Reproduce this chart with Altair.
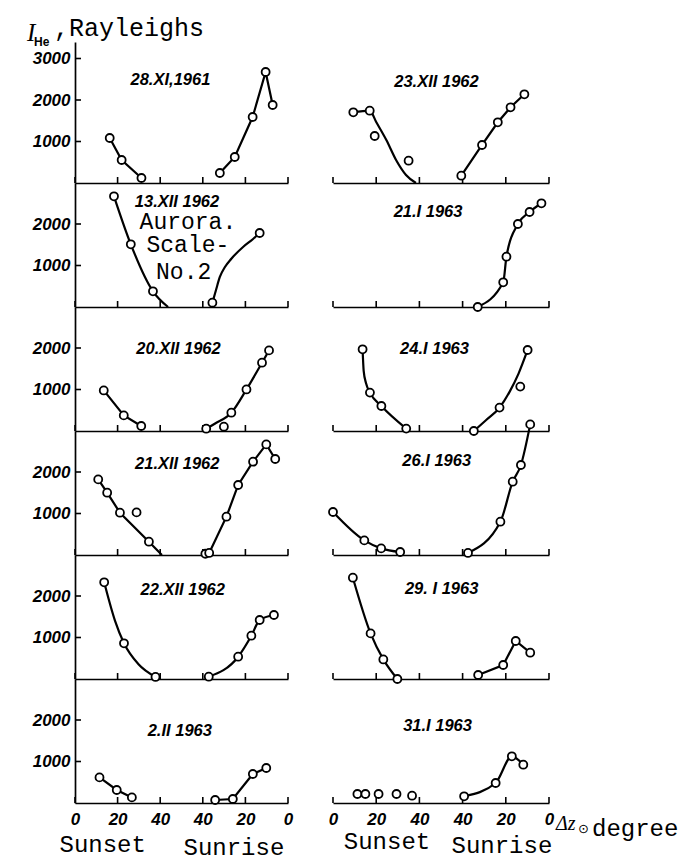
import altair as alt
import pandas as pd

# ---------------- data: (delta z_sun in degrees, I_He in Rayleighs) ----------------
TICK_U = [0, 20, 40, 60, 80, 100]
TICK_LABELS = ["0", "20", "40", "40", "20", "0"]
Y_TICKS_FIRST = [1000, 2000, 3000]
Y_TICKS_OTHER = [1000, 2000]

TITLES = ["28.XI,1961", "23.XII 1962", "13.XII 1962", "21.I 1963",
          "20.XII 1962", "24.I 1963", "21.XII 1962", "26.I 1963",
          "22.XII 1962", "29. I 1963", "2.II 1963", "31.I 1963"]

# 28.XI 1961
A_SET = [(16.3, 1084), (21.9, 554), (31.2, 120)]
A_RISE = [(32.0, 241), (25.0, 627), (16.6, 1590), (10.5, 2675), (7.2, 1880)]
# 23.XII 1962
B_SET = [(9.4, 1704), (17.0, 1742), (19.3, 1133), (35.0, 537)]
B_SET_FIT = [(9.4, 1704), (17.0, 1742), (20.0, 1470), (24.7, 1036), (29.2, 554), (33.8, 193), (38.4, 0)]
B_RISE = [(40.6, 176), (31.0, 916), (23.7, 1463), (17.8, 1824), (11.4, 2137)]
# 13.XII 1962
C_SET = [(18.3, 2667), (26.2, 1511), (36.6, 378)]
C_SET_FIT = [(18.3, 2667), (26.2, 1511), (36.6, 378), (43.7, 0)]
C_RISE = [(35.5, 104), (13.3, 1783)]
C_RISE_FIT = [(35.5, 104), (33.8, 410), (32.0, 723), (29.6, 964), (26.6, 1164), (21.1, 1446), (16.4, 1639), (13.3, 1783)]
# 21.I 1963
D_RISE = [(33.0, 0), (21.2, 595), (19.7, 1212), (14.4, 2000), (9.0, 2289), (3.5, 2499)]
# 20.XII 1962
E_SET = [(13.5, 978), (22.9, 376), (31.1, 120)]
E_RISE = [(38.4, 55), (30.1, 104), (26.6, 441), (19.5, 1002), (12.2, 1646), (8.9, 1942)]
E_RISE_FIT = [(38.4, 55), (34.4, 176), (26.6, 441), (19.5, 1002), (12.2, 1646), (8.9, 1942)]
# 24.I 1963
F_SET = [(13.7, 1969), (17.1, 925), (22.4, 602), (33.9, 58)]
F_SET_FIT = [(13.7, 1969), (14.2, 1450), (15.3, 1150), (17.1, 925), (22.4, 602), (33.9, 58)]
F_RISE = [(34.8, 0), (22.9, 564), (13.3, 1070), (9.9, 1952)]
F_RISE_FIT = [(34.8, 0), (29.2, 259), (22.9, 564), (18.2, 949), (14.1, 1383), (9.9, 1952)]
# 21.XII 1962
G_SET = [(10.9, 1822), (15.1, 1501), (21.1, 1019), (28.9, 1027), (34.7, 320)]
G_SET_FIT = [(10.9, 1822), (15.1, 1501), (21.1, 1019), (34.7, 320), (40.8, 0)]
G_RISE = [(38.8, 30), (37.0, 50), (28.9, 923), (23.4, 1687), (16.4, 2248), (10.2, 2665), (6.0, 2313)]
G_RISE_FIT = [(37.0, 50), (28.9, 923), (23.4, 1687), (16.4, 2248), (10.2, 2665), (6.0, 2313)]
# 26.I 1963
H_SET = [(0.0, 1036), (14.5, 352), (22.3, 159), (31.1, 72)]
H_RISE = [(37.5, 50), (22.5, 802), (16.8, 1766), (13.0, 2169), (8.7, 3147)]
# 22.XII 1962
I_SET = [(13.7, 2330), (23.0, 860), (37.8, 50)]
I_SET_FIT = [(13.7, 2330), (18.8, 1400), (23.0, 860), (29.7, 361), (37.8, 50)]
I_RISE = [(37.2, 55), (23.4, 537), (17.2, 1043), (13.3, 1422), (6.6, 1542)]
# 29.I 1963
J_SET = [(9.2, 2441), (17.4, 1099), (23.3, 472), (29.8, 0)]
J_RISE = [(32.8, 96), (21.2, 337), (15.4, 916), (8.7, 634)]
# 2.II 1963
K_SET = [(11.5, 617), (19.6, 313), (26.7, 135)]
K_RISE = [(34.2, 72), (25.9, 96), (16.5, 699), (10.2, 843)]
# 31.I 1963
L_SET = [(11.3, 217), (15.0, 217), (21.1, 217), (29.4, 217), (36.6, 176)]
L_RISE = [(39.3, 161), (24.7, 482), (17.2, 1125), (11.9, 923)]

PANELS = [
    ([("set", A_SET), ("rise", A_RISE)], [("set", "linear", A_SET), ("rise", "linear", A_RISE)]),
    ([("set", B_SET), ("rise", B_RISE)], [("set", "monotone", B_SET_FIT), ("rise", "linear", B_RISE)]),
    ([("set", C_SET), ("rise", C_RISE)], [("set", "monotone", C_SET_FIT), ("rise", "monotone", C_RISE_FIT)]),
    ([("rise", D_RISE)], [("rise", "monotone", D_RISE)]),
    ([("set", E_SET), ("rise", E_RISE)], [("set", "linear", E_SET), ("rise", "monotone", E_RISE_FIT)]),
    ([("set", F_SET), ("rise", F_RISE)], [("set", "monotone", F_SET_FIT), ("rise", "monotone", F_RISE_FIT)]),
    ([("set", G_SET), ("rise", G_RISE)], [("set", "linear", G_SET_FIT), ("rise", "linear", G_RISE_FIT)]),
    ([("set", H_SET), ("rise", H_RISE)], [("set", "monotone", H_SET), ("rise", "monotone", H_RISE)]),
    ([("set", I_SET), ("rise", I_RISE)], [("set", "monotone", I_SET_FIT), ("rise", "monotone", I_RISE)]),
    ([("set", J_SET), ("rise", J_RISE)], [("set", "monotone", J_SET), ("rise", "linear", J_RISE)]),
    ([("set", K_SET), ("rise", K_RISE)], [("set", "linear", K_SET), ("rise", "linear", K_RISE)]),
    ([("set", L_SET), ("rise", L_RISE)], [("rise", "monotone", L_RISE)]),
]

STAMP_TEXT = ["Aurora.", "Scale-", "No.2"]

# ---------------- layout ----------------
TITLE_POS = [(44.8, 2482), (47.9, 2434), (47.9, 2540), (44.0, 2289),
             (48.6, 1976), (47.0, 1976), (48.0, 2193), (48.0, 2265),
             (50.6, 2145), (50.3, 2169), (49.2, 1735), (48.4, 1855)]
STAMP_POS = [(53, 2060), (53, 1490), (51, 840)]
ROW_H = [141, 124, 124, 124, 124, 124]
PX_PER_R = 0.0415
W_LEFT, W_RIGHT, GAP = 213, 216, 45

NUM_FONT = "Liberation Sans"
TYPE_FONT = "Liberation Mono"

LABEL_EXPR = ("[" + ",".join(repr(s) for s in TICK_LABELS) + "][indexof(["
              + ",".join(str(t) for t in TICK_U) + "], datum.value)]")


def u_of(phase, deg):
    return deg if phase == "set" else 100 - deg


def text_layer(txt, x, y, **kw):
    return alt.Chart(pd.DataFrame({"t": [txt]})).mark_text(**kw).encode(
        text="t:N", x=alt.value(x), y=alt.value(y))


def panel(i):
    row, col = divmod(i, 2)
    H = ROW_H[row]
    W = W_LEFT if col == 0 else W_RIGHT
    ymax = H / PX_PER_R
    bottom = row == 5
    left = col == 0
    xs = alt.Scale(domain=[0, 100])
    ys = alt.Scale(domain=[0, ymax])
    if bottom:
        xaxis = alt.Axis(values=TICK_U, labelExpr=LABEL_EXPR, ticks=False, grid=False,
                         domain=True, title=None, labelFont=NUM_FONT, labelFontSize=17,
                         labelFontStyle="italic", labelFontWeight="bold", labelPadding=8,
                         labelColor="black", domainColor="black", domainWidth=1.7,
                         labelFlush=False)
    else:
        xaxis = alt.Axis(values=TICK_U, labels=False, ticks=False, grid=False,
                         domain=True, title=None, domainColor="black", domainWidth=1.7)
    yt = Y_TICKS_FIRST if row == 0 else Y_TICKS_OTHER
    if left:
        yaxis = alt.Axis(values=yt, format="d", ticks=False, grid=False, domain=True,
                         title=None, labelFont=NUM_FONT, labelFontSize=17,
                         labelFontStyle="italic", labelFontWeight="bold",
                         labelColor="black", labelPadding=5, domainColor="black",
                         domainWidth=1.7)
    else:
        yaxis = None

    pts, curves = PANELS[i]
    prow = []
    for phase, arr in pts:
        for d, v in arr:
            prow.append({"u": u_of(phase, d), "v": v})
    pdf = pd.DataFrame(prow)

    layers = []
    # x ticks pointing upward
    layers.append(alt.Chart(pd.DataFrame({"u": TICK_U})).mark_rule(
        color="black", strokeWidth=1.6).encode(
        x=alt.X("u:Q", scale=xs, axis=xaxis), y=alt.value(H), y2=alt.value(H - 6)))
    if left:
        layers.append(alt.Chart(pd.DataFrame({"v": yt})).mark_rule(
            color="black", strokeWidth=1.6).encode(
            y=alt.Y("v:Q", scale=ys, axis=yaxis), x=alt.value(0), x2=alt.value(6)))
    for interp in ["linear", "monotone"]:
        rows = []
        for k, (phase, kind, arr) in enumerate(curves):
            if kind != interp:
                continue
            for d, v in arr:
                rows.append({"u": u_of(phase, d), "v": v, "seg": k})
        if rows:
            layers.append(alt.Chart(pd.DataFrame(rows)).mark_line(
                color="black", strokeWidth=2.2, interpolate=interp).encode(
                x=alt.X("u:Q", scale=xs, axis=xaxis),
                y=alt.Y("v:Q", scale=ys, axis=yaxis),
                detail="seg:N", order="u:Q"))
    layers.append(alt.Chart(pdf).mark_point(
        shape="circle", filled=True, fill="white", stroke="black", strokeWidth=1.8,
        size=64, opacity=1).encode(
        x=alt.X("u:Q", scale=xs, axis=xaxis), y=alt.Y("v:Q", scale=ys, axis=yaxis)))
    tu, tv = TITLE_POS[i]
    layers.append(alt.Chart(pd.DataFrame({"u": [tu], "v": [tv], "t": [TITLES[i]]})).mark_text(
        font=NUM_FONT, fontSize=16.5, fontStyle="italic", fontWeight="bold",
        align="center", baseline="middle", color="black").encode(
        x=alt.X("u:Q", scale=xs, axis=xaxis), y=alt.Y("v:Q", scale=ys, axis=yaxis),
        text="t:N"))

    if i == 0:
        layers.append(text_layer("I", -48, -9, font="Liberation Serif", fontSize=25,
                                 fontStyle="italic", align="left", color="black"))
        layers.append(text_layer("He", -41, 0, font=NUM_FONT, fontSize=12,
                                 fontWeight="bold", align="left", color="black"))
        layers.append(text_layer(",Rayleighs", -21, -14, font=TYPE_FONT, fontSize=25,
                                 align="left", color="black"))
    if i == 2:
        sdf = pd.DataFrame({"u": [p[0] for p in STAMP_POS], "v": [p[1] for p in STAMP_POS],
                            "t": STAMP_TEXT})
        layers.append(alt.Chart(sdf).mark_text(
            font=TYPE_FONT, fontSize=23, align="center", baseline="middle",
            color="black").encode(
            x=alt.X("u:Q", scale=xs, axis=xaxis), y=alt.Y("v:Q", scale=ys, axis=yaxis),
            text="t:N"))
    if bottom:
        if left:
            lab = [("Sunset", 13.0, H + 49), ("Sunrise", 74.6, H + 52)]
        else:
            lab = [("Sunset", 25.0, H + 46), ("Sunrise", 78.2, H + 50)]
        for txt, uu, yy in lab:
            layers.append(alt.Chart(pd.DataFrame({"u": [uu], "t": [txt]})).mark_text(
                font=TYPE_FONT, fontSize=24, align="center", baseline="alphabetic",
                color="black").encode(
                x=alt.X("u:Q", scale=xs, axis=xaxis), y=alt.value(yy), text="t:N"))
        if not left:
            layers.append(text_layer("\u0394z", W + 7, H + 21, font="Liberation Serif",
                                     fontSize=20, fontStyle="italic", align="left",
                                     color="black"))
            layers.append(text_layer("\u2299", W + 29, H + 26, font="DejaVu Sans",
                                     fontSize=13, align="left", color="black"))
            layers.append(text_layer("degree", W + 43, H + 26, font=TYPE_FONT,
                                     fontSize=24, align="left", color="black"))

    return alt.layer(*layers).properties(width=W, height=H)


cells = [panel(i) for i in range(12)]
chart = alt.concat(*cells, columns=2, spacing={"row": 0, "column": GAP},
                   bounds="flush", align="each").properties(
    padding={"left": 19, "top": 8, "right": 0, "bottom": 12}
).configure_view(stroke=None)

chart.save("out.html", embed_options={"renderer": "svg", "actions": False})
